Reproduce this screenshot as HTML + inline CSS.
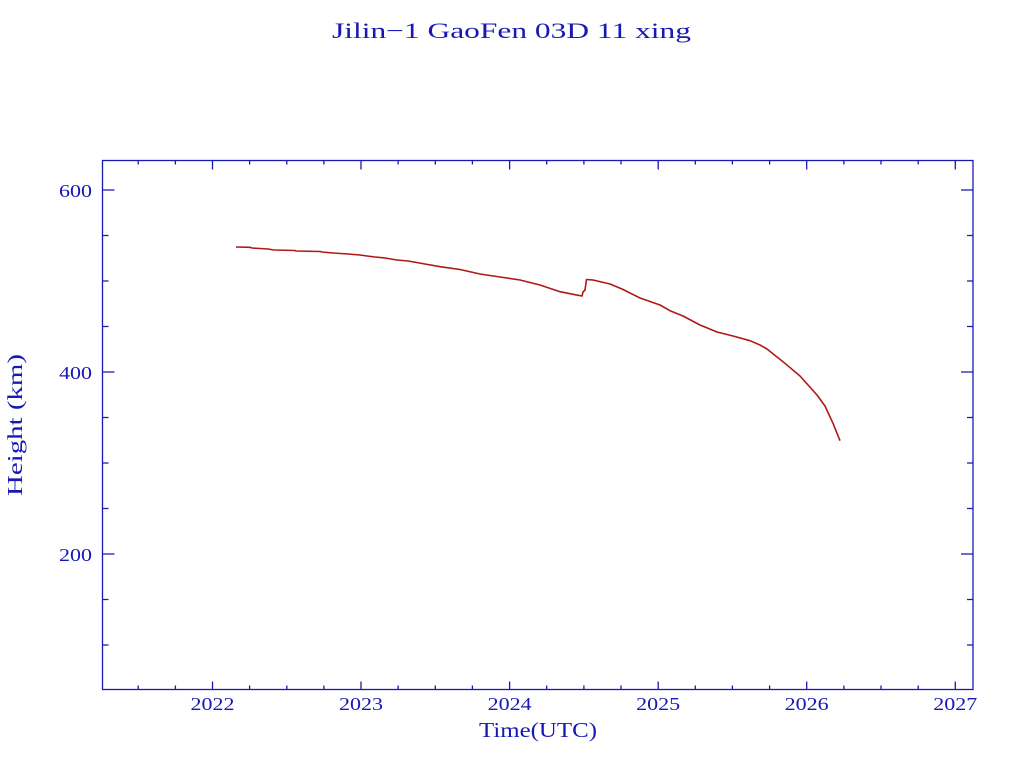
<!DOCTYPE html>
<html>
<head>
<meta charset="utf-8">
<style>
  html, body { margin: 0; padding: 0; background: #ffffff; }
  svg { display: block; }
  text { font-family: "Liberation Serif", serif; fill: #1818b4; }
</style>
</head>
<body>
<svg width="1024" height="768" viewBox="0 0 1024 768" xmlns="http://www.w3.org/2000/svg">
  <rect x="0" y="0" width="1024" height="768" fill="#ffffff"/>

  <!-- Title -->
  <text x="332" y="38" font-size="22" textLength="359" lengthAdjust="spacingAndGlyphs">Jilin−1 GaoFen 03D 11 xing</text>

  <!-- Frame -->
  <rect x="102.5" y="160.5" width="870.5" height="529" fill="none" stroke="#1818b4" stroke-width="1.3"/>

  <g stroke="#1818b4" stroke-width="1.3">
    <!-- X ticks bottom (major) -->
    <line x1="212.5" y1="689.5" x2="212.5" y2="681.5"/>
    <line x1="361" y1="689.5" x2="361" y2="681.5"/>
    <line x1="509.6" y1="689.5" x2="509.6" y2="681.5"/>
    <line x1="658.2" y1="689.5" x2="658.2" y2="681.5"/>
    <line x1="806.7" y1="689.5" x2="806.7" y2="681.5"/>
    <line x1="955.3" y1="689.5" x2="955.3" y2="681.5"/>
    <!-- X ticks top (major) -->
    <line x1="212.5" y1="160.5" x2="212.5" y2="169.5"/>
    <line x1="361" y1="160.5" x2="361" y2="169.5"/>
    <line x1="509.6" y1="160.5" x2="509.6" y2="169.5"/>
    <line x1="658.2" y1="160.5" x2="658.2" y2="169.5"/>
    <line x1="806.7" y1="160.5" x2="806.7" y2="169.5"/>
    <line x1="955.3" y1="160.5" x2="955.3" y2="169.5"/>
    <!-- X minor ticks -->
    <path d="M138.2 689.5v-4 M175.4 689.5v-4 M249.6 689.5v-4 M286.8 689.5v-4 M323.9 689.5v-4
             M398.1 689.5v-4 M435.3 689.5v-4 M472.4 689.5v-4
             M546.7 689.5v-4 M583.9 689.5v-4 M621 689.5v-4
             M695.3 689.5v-4 M732.4 689.5v-4 M769.6 689.5v-4
             M843.9 689.5v-4 M881 689.5v-4 M918.2 689.5v-4
             M138.2 160.5v4 M175.4 160.5v4 M249.6 160.5v4 M286.8 160.5v4 M323.9 160.5v4
             M398.1 160.5v4 M435.3 160.5v4 M472.4 160.5v4
             M546.7 160.5v4 M583.9 160.5v4 M621 160.5v4
             M695.3 160.5v4 M732.4 160.5v4 M769.6 160.5v4
             M843.9 160.5v4 M881 160.5v4 M918.2 160.5v4" fill="none"/>
    <!-- Y major ticks -->
    <path d="M102.5 190h12 M102.5 372h12 M102.5 554h12
             M973 190h-12 M973 372h-12 M973 554h-12" fill="none"/>
    <!-- Y minor ticks -->
    <path d="M102.5 235.5h6 M102.5 281h6 M102.5 326.5h6 M102.5 417.5h6 M102.5 463h6 M102.5 508.5h6 M102.5 599.5h6 M102.5 645h6
             M973 235.5h-6 M973 281h-6 M973 326.5h-6 M973 417.5h-6 M973 463h-6 M973 508.5h-6 M973 599.5h-6 M973 645h-6" fill="none"/>
  </g>

  <!-- Y tick labels -->
  <text x="59" y="197" font-size="18" textLength="33" lengthAdjust="spacingAndGlyphs">600</text>
  <text x="59" y="379" font-size="18" textLength="33" lengthAdjust="spacingAndGlyphs">400</text>
  <text x="59" y="561" font-size="18" textLength="33" lengthAdjust="spacingAndGlyphs">200</text>

  <!-- X tick labels -->
  <text x="190.5" y="710" font-size="18" textLength="44" lengthAdjust="spacingAndGlyphs">2022</text>
  <text x="339" y="710" font-size="18" textLength="44" lengthAdjust="spacingAndGlyphs">2023</text>
  <text x="487.6" y="710" font-size="18" textLength="44" lengthAdjust="spacingAndGlyphs">2024</text>
  <text x="636.2" y="710" font-size="18" textLength="44" lengthAdjust="spacingAndGlyphs">2025</text>
  <text x="784.7" y="710" font-size="18" textLength="44" lengthAdjust="spacingAndGlyphs">2026</text>
  <text x="933.3" y="710" font-size="18" textLength="44" lengthAdjust="spacingAndGlyphs">2027</text>

  <!-- Axis labels -->
  <text x="479" y="737" font-size="21" textLength="118" lengthAdjust="spacingAndGlyphs">Time(UTC)</text>
  <text transform="translate(22,496) rotate(-90)" x="0" y="0" font-size="21" textLength="142" lengthAdjust="spacingAndGlyphs">Height (km)</text>

  <!-- Series -->
  <polyline fill="none" stroke="#b01818" stroke-width="1.6" stroke-linejoin="round"
    points="236,247 250,247.3 252,248 268,249 274,250 295,250.5 296,251 320,251.5 322,252 333,253 348,254 360,255 367,256 375,257 385,258 397,260 408,261 425,264 440,266.7 460,269.5 480,274 500,277 520,280 540,285 560,291.7 575,294.7 582,296 583,292 585,290 586.5,279.5 593,280 610,284 622,289 640,298 660,305 670,310.7 683,316 700,325 717,332 733,336 750,340.7 760,345 767,349 783,361.7 800,376 817,395 825,406 833,423.3 840,440.7"/>
</svg>
</body>
</html>
